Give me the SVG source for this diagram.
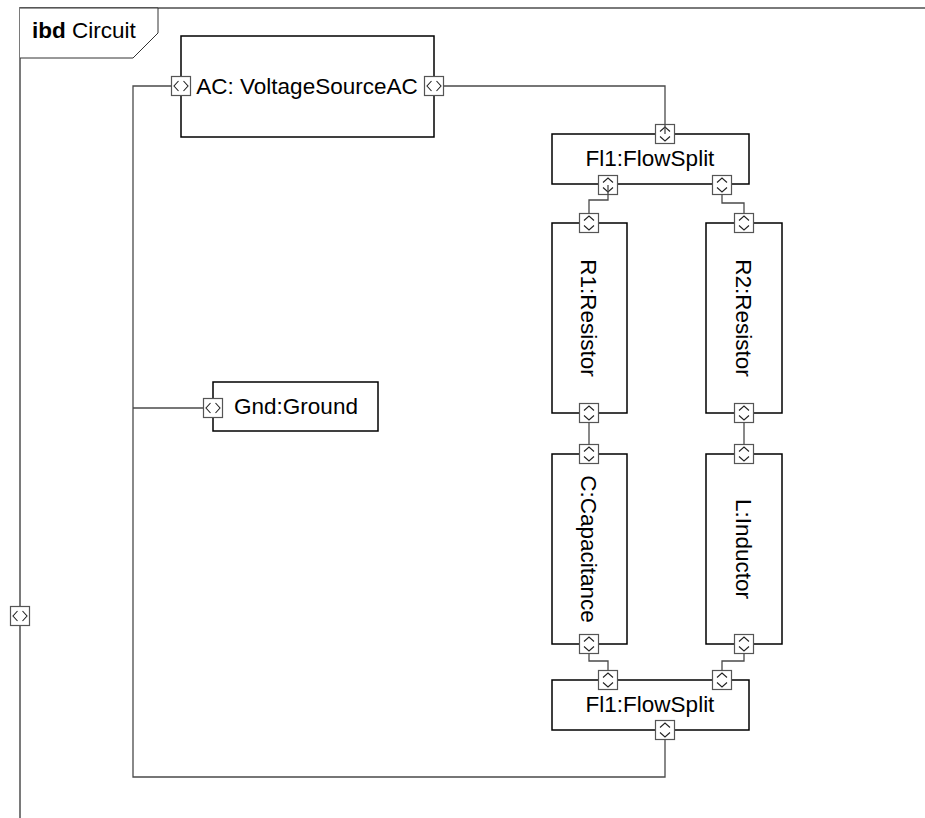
<svg xmlns="http://www.w3.org/2000/svg" xmlns:xlink="http://www.w3.org/1999/xlink" width="925" height="818" viewBox="0 0 925 818">
<style>
.blk{fill:#fff;stroke:#000;stroke-width:1.5}
.lbl{font-family:"Liberation Sans",Arial,sans-serif;font-size:22.5px;fill:#000;text-anchor:middle}
.con{fill:none;stroke:#4a4a4a;stroke-width:1.3}
.frame{fill:none;stroke:#7a7a7a;stroke-width:2}
.pbox{fill:#fff;stroke:#555;stroke-width:1.2}
.chev{fill:none;stroke:#222;stroke-width:1.1}
</style>
<defs>
<g id="ph"><rect class="pbox" x="-9.5" y="-9.5" width="19" height="19"/><polyline class="chev" points="-2.5,-5 -7,0 -2.5,5"/><polyline class="chev" points="2.5,-5 7,0 2.5,5"/></g>
<g id="pv"><rect class="pbox" x="-9.5" y="-9.5" width="19" height="19"/><polyline class="chev" points="-5,-2.5 0,-7 5,-2.5"/><polyline class="chev" points="-5,2.5 0,7 5,2.5"/></g>
</defs>
<rect width="925" height="818" fill="#fff"/>
<g id="frame">
<path class="frame" d="M20,818 V8 H925"/>
<path d="M20,8 H158 V33 L133,58 H20" fill="#fff" stroke="#333" stroke-width="1"/>
<text x="32" y="38" style="font-family:'Liberation Sans',Arial,sans-serif;font-size:22.5px"><tspan font-weight="bold">ibd</tspan> Circuit</text>
<use xlink:href="#ph" x="20" y="616"/>
</g>
<g id="AC">
<rect class="blk" x="181" y="36" width="253" height="101"/>
<text class="lbl" x="307" y="94">AC: VoltageSourceAC</text>
<use xlink:href="#ph" x="181" y="86"/>
<use xlink:href="#ph" x="434" y="86"/>
</g>
<g id="FlowSplit1">
<rect class="blk" x="552" y="134" width="197" height="50"/>
<text class="lbl" x="650" y="166">Fl1:FlowSplit</text>
<use xlink:href="#pv" x="665" y="134"/>
<use xlink:href="#pv" x="608" y="185"/>
<use xlink:href="#pv" x="722" y="185"/>
</g>
<g id="R1">
<rect class="blk" x="552" y="223" width="75" height="190"/>
<text class="lbl" transform="translate(589,318) rotate(90)" y="8">R1:Resistor</text>
<use xlink:href="#pv" x="589" y="223"/>
<use xlink:href="#pv" x="589" y="413"/>
</g>
<g id="R2">
<rect class="blk" x="706" y="223" width="76" height="190"/>
<text class="lbl" transform="translate(744,318) rotate(90)" y="8">R2:Resistor</text>
<use xlink:href="#pv" x="744" y="223"/>
<use xlink:href="#pv" x="744" y="413"/>
</g>
<g id="C">
<rect class="blk" x="552" y="454" width="75" height="190"/>
<text class="lbl" transform="translate(589,549) rotate(90)" y="8">C:Capacitance</text>
<use xlink:href="#pv" x="589" y="454"/>
<use xlink:href="#pv" x="589" y="644"/>
</g>
<g id="L">
<rect class="blk" x="706" y="454" width="76" height="190"/>
<text class="lbl" transform="translate(744,549) rotate(90)" y="8">L:Inductor</text>
<use xlink:href="#pv" x="744" y="454"/>
<use xlink:href="#pv" x="744" y="644"/>
</g>
<g id="FlowSplit2">
<rect class="blk" x="552" y="680" width="197" height="50"/>
<text class="lbl" x="650" y="712">Fl1:FlowSplit</text>
<use xlink:href="#pv" x="608" y="680"/>
<use xlink:href="#pv" x="722" y="680"/>
<use xlink:href="#pv" x="665" y="730"/>
</g>
<g id="Gnd">
<rect class="blk" x="213" y="382" width="165" height="49"/>
<text class="lbl" x="296" y="414">Gnd:Ground</text>
<use xlink:href="#ph" x="213" y="408"/>
</g>
<g id="connectors">
<path class="con" d="M443.5,86 H665 V134"/>
<path class="con" d="M608,185 V200 H589 V213.5"/>
<path class="con" d="M722,194.5 V203 H744 V213.5"/>
<path class="con" d="M589,422.5 V444.5"/>
<path class="con" d="M744,422.5 V444.5"/>
<path class="con" d="M589,653.5 V661 H608 V670.5"/>
<path class="con" d="M744,653.5 V661 H722 V670.5"/>
<path class="con" d="M665,739.5 V777 H133 V86 H171.5"/>
<path class="con" d="M133,408 H203.5"/>
</g>
</svg>
